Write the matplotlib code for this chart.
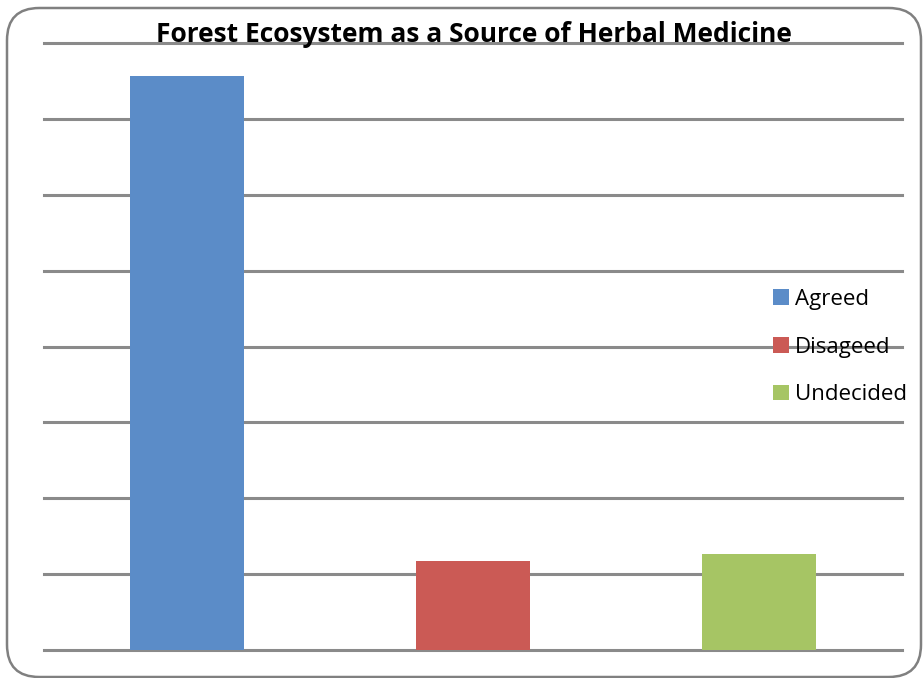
import matplotlib.pyplot as plt
from matplotlib.patches import FancyBboxPatch

categories = ["Agreed", "Disageed", "Undecided"]
values = [75.6, 11.7, 12.6]
colors = ["#5b8cc8", "#cb5a55", "#a6c564"]

W, H = 923, 678
fig = plt.figure(figsize=(W / 100, H / 100), dpi=100)

# rounded chart border like the Excel chart area
border = FancyBboxPatch((7 / W, 1 / H), 914 / W, 669 / H,
                        boxstyle="round,pad=0,rounding_size=0.035",
                        mutation_aspect=W / H,
                        transform=fig.transFigure, facecolor="white",
                        edgecolor="#808080", linewidth=1.8, zorder=0)
fig.patches.append(border)

ax = fig.add_axes([44 / W, (H - 650) / H, 858 / W, 607 / H])
ax.set_zorder(2)
ax.set_facecolor("none")

x = range(len(categories))
bars = ax.bar(x, values, width=0.4, color=colors, label=categories, zorder=3)

ax.set_xlim(-0.5, 2.5)
ax.set_ylim(0, 80)
ax.set_yticks(range(0, 81, 10))
ax.yaxis.grid(True, color="#8a8a8a", linewidth=2.2, zorder=1)
for gl in ax.get_ygridlines():
    gl.set_clip_on(False)
ax.set_yticklabels([])
ax.set_xticks([])
ax.tick_params(left=False, bottom=False)
for s in ax.spines.values():
    s.set_visible(False)

fig.text(474 / W, 1 - 35 / H, "Forest Ecosystem as a Source of Herbal Medicine",
         ha="center", va="center", fontsize=19, fontweight="bold",
         family="Open Sans", zorder=5)

leg = fig.legend(handles=bars, labels=categories, loc="upper left",
                 bbox_to_anchor=(773 / W, 1 - 289 / H), frameon=False,
                 prop={"family": "Open Sans", "size": 16},
                 handlelength=0.72, handleheight=0.72, handletextpad=0.27,
                 labelspacing=1.2, borderaxespad=0, borderpad=0)
leg.set_zorder(6)

fig.savefig("out.png", dpi=100)
